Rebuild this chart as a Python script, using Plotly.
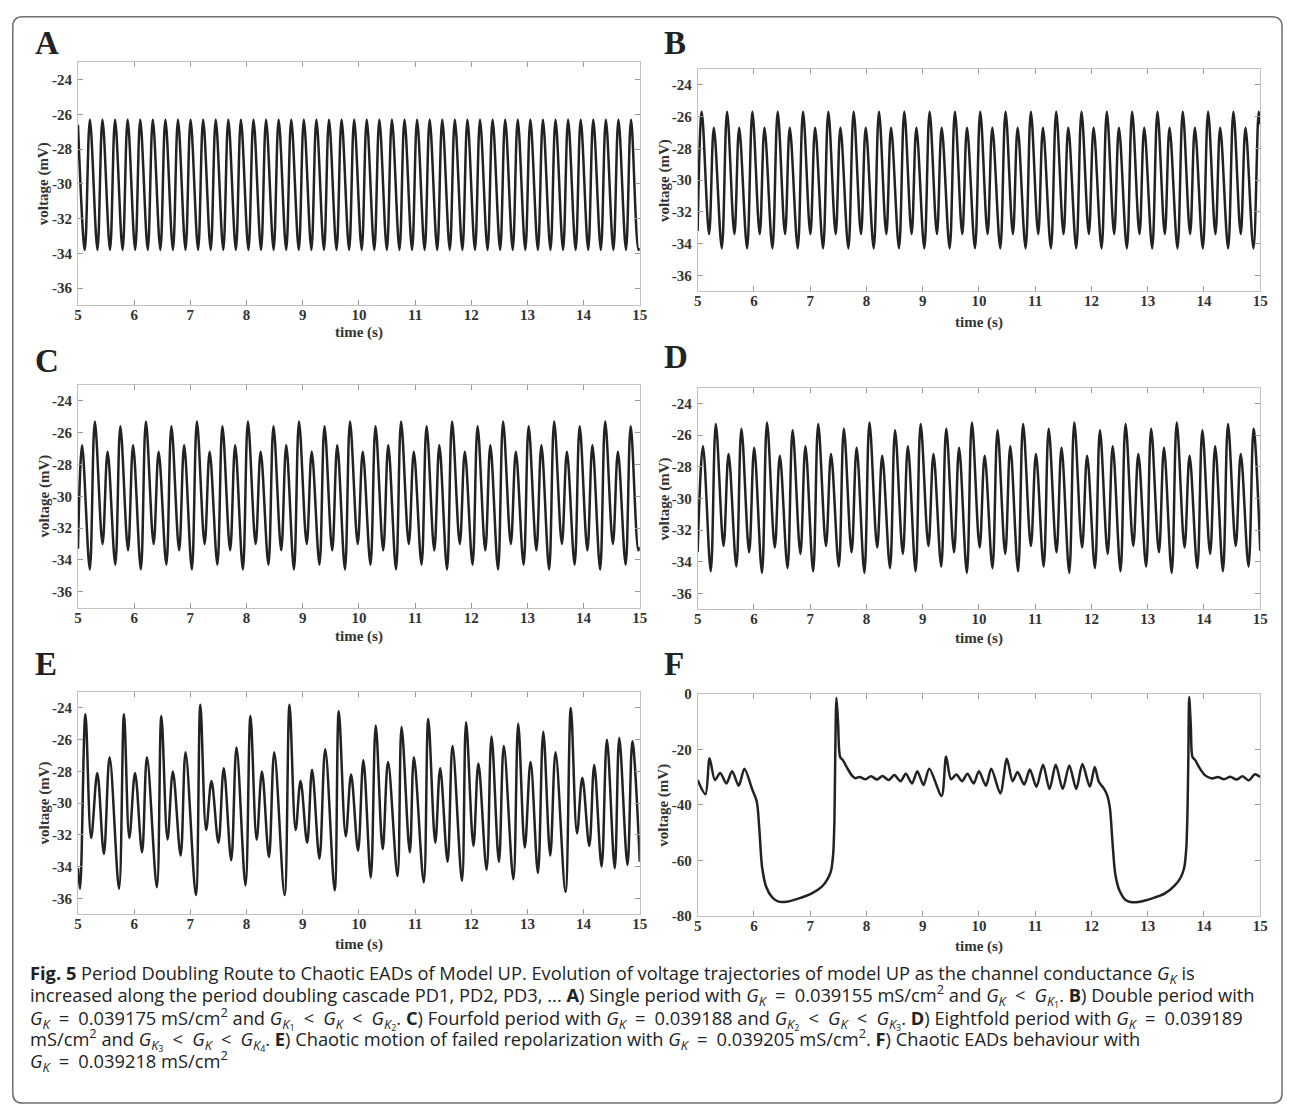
import plotly.graph_objects as go

# page is rendered with an 8px body margin -> figure placed at (8, 8)
OFF = 8
W, H = 1294 - OFF, 1117 - OFF

# ---------------- data ----------------
time_ticks = [5, 6, 7, 8, 9, 10, 11, 12, 13, 14, 15]
time_tick_text = ["5", "6", "7", "8", "9", "10", "11", "12", "13", "14", "15"]
volt_ticks = [-24, -26, -28, -30, -32, -34, -36]
volt_tick_text = ["-24", "-26", "-28", "-30", "-32", "-34", "-36"]
volt_ticks_F = [0, -20, -40, -60, -80]
volt_tick_text_F = ["0", "-20", "-40", "-60", "-80"]

# A) single period
A_edge_t = [5.0, 15.0]
A_edge_v = [-26.6, -33.7]
A_peak_t = [5.212, 5.436, 5.660, 5.884, 6.108, 6.332, 6.556, 6.780, 7.004, 7.228, 7.452,
            7.676, 7.900, 8.124, 8.348, 8.572, 8.796, 9.020, 9.244, 9.468, 9.692, 9.916,
            10.140, 10.364, 10.588, 10.812, 11.036, 11.260, 11.484, 11.708, 11.932, 12.156,
            12.380, 12.604, 12.828, 13.052, 13.276, 13.500, 13.724, 13.948, 14.172, 14.396,
            14.620, 14.844]
A_peak_v = [-26.3, -26.3, -26.3, -26.3, -26.3, -26.3, -26.3, -26.3, -26.3, -26.3, -26.3,
            -26.3, -26.3, -26.3, -26.3, -26.3, -26.3, -26.3, -26.3, -26.3, -26.3, -26.3,
            -26.3, -26.3, -26.3, -26.3, -26.3, -26.3, -26.3, -26.3, -26.3, -26.3, -26.3,
            -26.3, -26.3, -26.3, -26.3, -26.3, -26.3, -26.3, -26.3, -26.3, -26.3, -26.3]
A_trough_t = [5.122, 5.346, 5.570, 5.794, 6.018, 6.242, 6.466, 6.690, 6.914, 7.138, 7.362,
              7.586, 7.810, 8.034, 8.258, 8.482, 8.706, 8.930, 9.154, 9.378, 9.602, 9.826,
              10.050, 10.274, 10.498, 10.722, 10.946, 11.170, 11.394, 11.618, 11.842, 12.066,
              12.290, 12.514, 12.738, 12.962, 13.186, 13.410, 13.634, 13.858, 14.082, 14.306,
              14.530, 14.754, 14.978]
A_trough_v = [-33.8, -33.8, -33.8, -33.8, -33.8, -33.8, -33.8, -33.8, -33.8, -33.8, -33.8,
              -33.8, -33.8, -33.8, -33.8, -33.8, -33.8, -33.8, -33.8, -33.8, -33.8, -33.8,
              -33.8, -33.8, -33.8, -33.8, -33.8, -33.8, -33.8, -33.8, -33.8, -33.8, -33.8,
              -33.8, -33.8, -33.8, -33.8, -33.8, -33.8, -33.8, -33.8, -33.8, -33.8, -33.8,
              -33.8]

# B) double period
B_edge_t = [5.0, 15.0]
B_edge_v = [-33.2, -26.5]
B_peak_t = [5.073, 5.288, 5.523, 5.738, 5.973, 6.188, 6.423, 6.638, 6.873, 7.088, 7.323,
            7.538, 7.773, 7.988, 8.223, 8.438, 8.673, 8.888, 9.123, 9.338, 9.573, 9.788,
            10.023, 10.238, 10.473, 10.688, 10.923, 11.138, 11.373, 11.588, 11.823, 12.038,
            12.273, 12.488, 12.723, 12.938, 13.173, 13.388, 13.623, 13.838, 14.073, 14.288,
            14.523, 14.738, 14.973]
B_peak_v = [-25.7, -26.7, -25.7, -26.7, -25.7, -26.7, -25.7, -26.7, -25.7, -26.7, -25.7,
            -26.7, -25.7, -26.7, -25.7, -26.7, -25.7, -26.7, -25.7, -26.7, -25.7, -26.7,
            -25.7, -26.7, -25.7, -26.7, -25.7, -26.7, -25.7, -26.7, -25.7, -26.7, -25.7,
            -26.7, -25.7, -26.7, -25.7, -26.7, -25.7, -26.7, -25.7, -26.7, -25.7, -26.7,
            -25.7]
B_trough_t = [5.203, 5.429, 5.653, 5.879, 6.103, 6.329, 6.553, 6.779, 7.003, 7.229, 7.453,
              7.679, 7.903, 8.129, 8.353, 8.579, 8.803, 9.029, 9.253, 9.479, 9.703, 9.929,
              10.153, 10.379, 10.603, 10.829, 11.053, 11.279, 11.503, 11.729, 11.953, 12.179,
              12.403, 12.629, 12.853, 13.079, 13.303, 13.529, 13.753, 13.979, 14.203, 14.429,
              14.653, 14.879]
B_trough_v = [-33.4, -34.3, -33.4, -34.3, -33.4, -34.3, -33.4, -34.3, -33.4, -34.3, -33.4,
              -34.3, -33.4, -34.3, -33.4, -34.3, -33.4, -34.3, -33.4, -34.3, -33.4, -34.3,
              -33.4, -34.3, -33.4, -34.3, -33.4, -34.3, -33.4, -34.3, -33.4, -34.3, -33.4,
              -34.3, -33.4, -34.3, -33.4, -34.3, -33.4, -34.3, -33.4, -34.3, -33.4, -34.3]

# C) fourfold period
C_edge_t = [5.0, 15.0]
C_edge_v = [-33.3, -33.2]
C_peak_t = [5.073, 5.300, 5.527, 5.754, 5.981, 6.209, 6.436, 6.663, 6.890, 7.117, 7.344,
            7.571, 7.798, 8.025, 8.252, 8.480, 8.707, 8.934, 9.161, 9.388, 9.615, 9.842,
            10.069, 10.296, 10.523, 10.751, 10.978, 11.205, 11.432, 11.659, 11.886, 12.113,
            12.340, 12.567, 12.794, 13.022, 13.249, 13.476, 13.703, 13.930, 14.157, 14.384,
            14.611, 14.838]
C_peak_v = [-26.8, -25.3, -27.2, -25.6, -26.8, -25.3, -27.2, -25.6, -26.8, -25.3, -27.2,
            -25.6, -26.8, -25.3, -27.2, -25.6, -26.8, -25.3, -27.2, -25.6, -26.8, -25.3,
            -27.2, -25.6, -26.8, -25.3, -27.2, -25.6, -26.8, -25.3, -27.2, -25.6, -26.8,
            -25.3, -27.2, -25.6, -26.8, -25.3, -27.2, -25.6, -26.8, -25.3, -27.2, -25.6]
C_trough_t = [5.210, 5.437, 5.664, 5.891, 6.119, 6.346, 6.573, 6.800, 7.027, 7.254, 7.481,
              7.708, 7.935, 8.162, 8.390, 8.617, 8.844, 9.071, 9.298, 9.525, 9.752, 9.979,
              10.206, 10.433, 10.661, 10.888, 11.115, 11.342, 11.569, 11.796, 12.023, 12.250,
              12.477, 12.704, 12.932, 13.159, 13.386, 13.613, 13.840, 14.067, 14.294, 14.521,
              14.748, 14.975]
C_trough_v = [-34.6, -33.0, -34.3, -33.4, -34.6, -33.0, -34.3, -33.4, -34.6, -33.0, -34.3,
              -33.4, -34.6, -33.0, -34.3, -33.4, -34.6, -33.0, -34.3, -33.4, -34.6, -33.0,
              -34.3, -33.4, -34.6, -33.0, -34.3, -33.4, -34.6, -33.0, -34.3, -33.4, -34.6,
              -33.0, -34.3, -33.4, -34.6, -33.0, -34.3, -33.4, -34.6, -33.0, -34.3, -33.4]

# D) eightfold period
D_edge_t = [5.0, 15.0]
D_edge_v = [-33.4, -33.3]
D_peak_t = [5.095, 5.323, 5.550, 5.778, 6.005, 6.233, 6.461, 6.688, 6.916, 7.143, 7.371,
            7.599, 7.826, 8.054, 8.281, 8.509, 8.737, 8.964, 9.192, 9.419, 9.647, 9.875,
            10.102, 10.330, 10.557, 10.785, 11.013, 11.240, 11.468, 11.695, 11.923, 12.151,
            12.378, 12.606, 12.833, 13.061, 13.289, 13.516, 13.744, 13.971, 14.199, 14.427,
            14.654, 14.882]
D_peak_v = [-26.7, -25.3, -27.2, -25.6, -26.8, -25.2, -27.3, -25.7,
            -26.7, -25.3, -27.2, -25.6, -26.8, -25.2, -27.3, -25.7,
            -26.7, -25.3, -27.2, -25.6, -26.8, -25.2, -27.3, -25.7,
            -26.7, -25.3, -27.2, -25.6, -26.8, -25.2, -27.3, -25.7,
            -26.7, -25.3, -27.2, -25.6, -26.8, -25.2, -27.3, -25.7,
            -26.7, -25.3, -27.2, -25.6]
D_trough_t = [5.233, 5.460, 5.688, 5.915, 6.143, 6.371, 6.598, 6.826, 7.053, 7.281, 7.509,
              7.736, 7.964, 8.191, 8.419, 8.647, 8.874, 9.102, 9.329, 9.557, 9.785, 10.012,
              10.240, 10.467, 10.695, 10.923, 11.150, 11.378, 11.605, 11.833, 12.061, 12.288,
              12.516, 12.743, 12.971, 13.199, 13.426, 13.654, 13.881, 14.109, 14.337, 14.564,
              14.792]
D_trough_v = [-34.6, -33.0, -34.3, -33.4, -34.7, -33.1, -34.4, -33.5,
              -34.6, -33.0, -34.3, -33.4, -34.7, -33.1, -34.4, -33.5,
              -34.6, -33.0, -34.3, -33.4, -34.7, -33.1, -34.4, -33.5,
              -34.6, -33.0, -34.3, -33.4, -34.7, -33.1, -34.4, -33.5,
              -34.6, -33.0, -34.3, -33.4, -34.7, -33.1, -34.4, -33.5,
              -34.6, -33.0, -34.3]

# E) chaotic failed repolarization
E_edge_t = [5.0, 15.0]
E_edge_v = [-34.1, -33.7]
E_peak_t = [5.132, 5.344, 5.563, 5.819, 6.016, 6.228, 6.484, 6.689, 6.915, 7.178, 7.376,
            7.595, 7.822, 8.070, 8.275, 8.494, 8.765, 8.962, 9.167, 9.401, 9.642, 9.861,
            10.080, 10.300, 10.519, 10.760, 10.980, 11.235, 11.447, 11.667, 11.908, 12.127,
            12.361, 12.580, 12.836, 13.056, 13.282, 13.501, 13.772, 13.977, 14.189, 14.415,
            14.635, 14.868]
E_peak_v = [-24.4, -28.1, -27.1, -24.4, -28.1, -27.1, -24.5, -28.0, -26.8, -23.8, -28.6,
            -27.8, -26.5, -24.5, -28.0, -26.8, -23.8, -28.6, -27.9, -26.6, -24.2, -28.2,
            -27.3, -25.1, -27.4, -25.2, -27.1, -24.7, -27.8, -26.4, -24.9, -27.5, -25.8,
            -26.4, -25.0, -27.4, -25.5, -26.8, -24.0, -28.4, -27.6, -26.0, -25.9, -26.1]
E_trough_t = [5.037, 5.234, 5.461, 5.731, 5.914, 6.140, 6.404, 6.594, 6.827, 7.098, 7.281,
              7.500, 7.727, 7.982, 8.180, 8.399, 8.677, 8.874, 9.079, 9.298, 9.569, 9.766,
              9.985, 10.212, 10.424, 10.687, 10.906, 11.155, 11.360, 11.579, 11.835, 12.039,
              12.273, 12.493, 12.749, 12.953, 13.187, 13.406, 13.677, 13.882, 14.101, 14.320,
              14.554, 14.781]
E_trough_v = [-35.4, -32.2, -33.2, -35.4, -32.2, -33.1, -35.3, -32.3, -33.3, -35.8, -31.7,
              -32.5, -33.6, -35.2, -32.3, -33.4, -35.8, -31.7, -32.5, -33.5, -35.5, -32.1,
              -33.0, -34.7, -32.9, -34.6, -33.1, -35.0, -32.5, -33.7, -34.9, -32.7, -34.2,
              -33.7, -34.8, -32.8, -34.4, -33.3, -35.6, -31.9, -32.7, -34.0, -34.1, -33.9]

# F) chaotic EADs (full trace key points)
F_t = [5.000, 5.139, 5.212, 5.307, 5.401, 5.511, 5.613, 5.730, 5.832, 5.964, 6.051, 6.095,
       6.146, 6.219, 6.328, 6.438, 6.584, 6.803, 7.022, 7.204, 7.314, 7.372, 7.409, 7.431,
       7.445, 7.467, 7.496, 7.533, 7.584, 7.657, 7.752, 7.800, 7.880, 7.985, 8.080, 8.190,
       8.285, 8.394, 8.496, 8.606, 8.701, 8.810, 8.905, 9.015, 9.117, 9.336, 9.416, 9.504,
       9.599, 9.701, 9.796, 9.905, 10.000, 10.124, 10.219, 10.380, 10.496, 10.599, 10.686,
       10.803, 10.905, 11.022, 11.139, 11.255, 11.365, 11.489, 11.606, 11.730, 11.839,
       11.971, 12.058, 12.131, 12.219, 12.277, 12.328, 12.372, 12.423, 12.496, 12.606,
       12.715, 12.861, 13.080, 13.299, 13.482, 13.591, 13.650, 13.686, 13.708, 13.723,
       13.737, 13.766, 13.796, 13.847, 13.920, 14.015, 14.139, 14.248, 14.358, 14.467,
       14.577, 14.686, 14.796, 14.905, 15.000]
F_v = [-31.1, -36.2, -23.2, -31.1, -28.5, -32.3, -27.9, -33.1, -27.0, -34.1, -38.8, -48.3,
       -62.5, -69.6, -73.4, -74.9, -74.9, -73.7, -72.0, -69.6, -66.6, -63.7, -57.8, -45.9,
       -23.4, -1.5, -10.4, -22.8, -24.0, -26.7, -29.7, -30.4, -30.0, -30.8, -29.7, -30.9,
       -29.6, -31.1, -29.3, -31.5, -28.8, -32.3, -27.9, -32.9, -27.0, -36.8, -22.6, -30.8,
       -29.1, -31.5, -28.8, -32.3, -27.9, -33.1, -27.0, -35.9, -23.4, -31.5, -28.2,
       -32.7, -27.3, -33.5, -25.6, -34.3, -25.6, -34.3, -25.8, -34.3, -25.3,
       -33.5, -26.4, -31.7, -34.1, -36.4, -41.2, -53.0, -64.9, -70.8, -74.3,
       -75.1, -74.9, -73.7, -72.0, -69.0, -66.0, -62.5, -55.4, -41.2, -21.1,
       -1.2, -11.6, -22.8, -24.0, -26.7, -29.3, -30.5, -30.0, -30.8, -29.9,
       -30.9, -29.7, -31.2, -29.0, -30.0]

panel_letters = ["A", "B", "C", "D", "E", "F"]
x_title = "time (s)"
y_title = "voltage (mV)"

SP = "&#8194;"  # math-style spacing around operators
GK = "<i>G</i><sub><i>K</i></sub>"
GK1 = "<i>G</i><sub><i>K</i><sub>1</sub></sub>"
GK2 = "<i>G</i><sub><i>K</i><sub>2</sub></sub>"
GK3 = "<i>G</i><sub><i>K</i><sub>3</sub></sub>"
GK4 = "<i>G</i><sub><i>K</i><sub>4</sub></sub>"
EQ = f"{SP}={SP}"
LT = f"{SP}&lt;{SP}"
caption_lines = [
    f"<b>Fig. 5</b> Period Doubling Route to Chaotic EADs of Model UP. Evolution of voltage trajectories of model UP as the channel conductance {GK} is",
    f"increased along the period doubling cascade PD1, PD2, PD3, ... <b>A</b>) Single period with {GK}{EQ}0.039155 mS/cm<sup>2</sup> and {GK}{LT}{GK1}. <b>B</b>) Double period with",
    f"{GK}{EQ}0.039175 mS/cm<sup>2</sup> and {GK1}{LT}{GK}{LT}{GK2}. <b>C</b>) Fourfold period with {GK}{EQ}0.039188 and {GK2}{LT}{GK}{LT}{GK3}. <b>D</b>) Eightfold period with {GK}{EQ}0.039189",
    f"mS/cm<sup>2</sup> and {GK3}{LT}{GK}{LT}{GK4}. <b>E</b>) Chaotic motion of failed repolarization with {GK}{EQ}0.039205 mS/cm<sup>2</sup>. <b>F</b>) Chaotic EADs behaviour with",
    f"{GK}{EQ}0.039218 mS/cm<sup>2</sup>",
]


# ---------------- build ----------------
def merge(*pairs):
    pts = []
    for ts, vs in pairs:
        pts.extend(zip(ts, vs))
    pts.sort(key=lambda p: p[0])
    return [p[0] for p in pts], [p[1] for p in pts]


series = {
    "A": merge((A_edge_t, A_edge_v), (A_peak_t, A_peak_v), (A_trough_t, A_trough_v)),
    "B": merge((B_edge_t, B_edge_v), (B_peak_t, B_peak_v), (B_trough_t, B_trough_v)),
    "C": merge((C_edge_t, C_edge_v), (C_peak_t, C_peak_v), (C_trough_t, C_trough_v)),
    "D": merge((D_edge_t, D_edge_v), (D_peak_t, D_peak_v), (D_trough_t, D_trough_v)),
    "E": merge((E_edge_t, E_edge_v), (E_peak_t, E_peak_v), (E_trough_t, E_trough_v)),
    "F": merge((F_t, F_v)),
}


# page pixel -> paper coordinate
def px(x):
    return (x - OFF) / W


def py(y):
    return 1 - (y - OFF) / H


# plot boxes in page pixels: (left, right, top, bottom)
boxes = {
    "A": (74.6, 641.7, 55.0, 301.7),
    "B": (700.1, 1268.0, 61.7, 287.3),
    "C": (74.6, 641.7, 382.3, 608.3),
    "D": (700.1, 1268.0, 385.0, 610.0),
    "E": (74.6, 641.7, 694.0, 919.3),
    "F": (700.1, 1268.0, 695.7, 921.0),
}
letter_pos = {"A": (29, 35), "B": (664, 35), "C": (29, 358), "D": (664, 354),
              "E": (29, 665), "F": (664, 665)}
xtitle_y = {"A": 329, "B": 319, "C": 638, "D": 640, "E": 950, "F": 952}

fig = go.Figure()
serif = "Liberation Serif"
axis_gray = "#c2c2c2"
tick_gray = "#9a9a9a"
text_col = "#333333"

annotations = []
for i, key in enumerate(panel_letters, start=1):
    t, v = series[key]
    l, r, tp, bt = boxes[key]
    fig.add_trace(go.Scatter(
        x=t, y=v, mode="lines",
        line=dict(color="#222222", width=2.5, shape="spline",
                  smoothing=0.8 if key == "F" else 1.0),
        xaxis=f"x{i}", yaxis=f"y{i}", showlegend=False, hoverinfo="skip"))
    if key == "F":
        yr, yt, ytt = [-80, 0], volt_ticks_F, volt_tick_text_F
    else:
        yr, yt, ytt = [-37, -23], volt_ticks, volt_tick_text
    common = dict(showline=True, linecolor=axis_gray, linewidth=1, mirror="ticks",
                  ticks="inside", ticklen=5, tickcolor=tick_gray, tickwidth=1,
                  showgrid=False, zeroline=False,
                  tickfont=dict(family=serif, size=15, color=text_col, weight="bold"))
    fig.update_layout(**{
        f"xaxis{i}": dict(domain=[px(l), px(r)], range=[5, 15], tickvals=time_ticks,
                          ticktext=time_tick_text, ticklabelstandoff=-4,
                          anchor=f"y{i}", **common),
        f"yaxis{i}": dict(domain=[py(bt), py(tp)], range=yr, tickvals=yt, ticktext=ytt,
                          anchor=f"x{i}", ticklabelstandoff=2, **common),
    })
    lx, ly = letter_pos[key]
    annotations.append(dict(text=key, x=px(lx), y=py(ly), xref="paper", yref="paper",
                            xanchor="left", yanchor="middle", showarrow=False,
                            font=dict(family=serif, size=33, color="#222222", weight="bold")))
    annotations.append(dict(text=x_title, x=px((l + r) / 2), y=py(xtitle_y[key]),
                            xref="paper", yref="paper", xanchor="center", yanchor="middle",
                            showarrow=False,
                            font=dict(family=serif, size=15, color=text_col, weight="bold")))
    annotations.append(dict(text=y_title, x=px(l - 34), y=py((tp + bt) / 2),
                            xref="paper", yref="paper", xanchor="center", yanchor="middle",
                            textangle=-90, showarrow=False,
                            font=dict(family=serif, size=15, color=text_col, weight="bold")))

cap_y = [980, 1002, 1025, 1046, 1068]
for line, yy in zip(caption_lines, cap_y):
    annotations.append(dict(text=line, x=px(24), y=py(yy), xref="paper", yref="paper",
                            xanchor="left", yanchor="middle", showarrow=False, align="left",
                            font=dict(family="Open Sans", size=18.3, color="#222222")))

# rounded border (page pixels)
x0, y0, x1, y1, rr = 8.8, 8.8, 1290, 1111, 10
path = (f"M{px(x0 + rr)},{py(y0)} L{px(x1 - rr)},{py(y0)} Q{px(x1)},{py(y0)} {px(x1)},{py(y0 + rr)} "
        f"L{px(x1)},{py(y1 - rr)} Q{px(x1)},{py(y1)} {px(x1 - rr)},{py(y1)} "
        f"L{px(x0 + rr)},{py(y1)} Q{px(x0)},{py(y1)} {px(x0)},{py(y1 - rr)} "
        f"L{px(x0)},{py(y0 + rr)} Q{px(x0)},{py(y0)} {px(x0 + rr)},{py(y0)} Z")

fig.update_layout(
    width=W, height=H, margin=dict(l=0, r=0, t=0, b=0),
    paper_bgcolor="white", plot_bgcolor="white", showlegend=False,
    annotations=annotations,
    shapes=[dict(type="path", path=path, xref="paper", yref="paper",
                 line=dict(color="#6e6e6e", width=1.5), layer="above")],
)

fig.write_html("out.html")
